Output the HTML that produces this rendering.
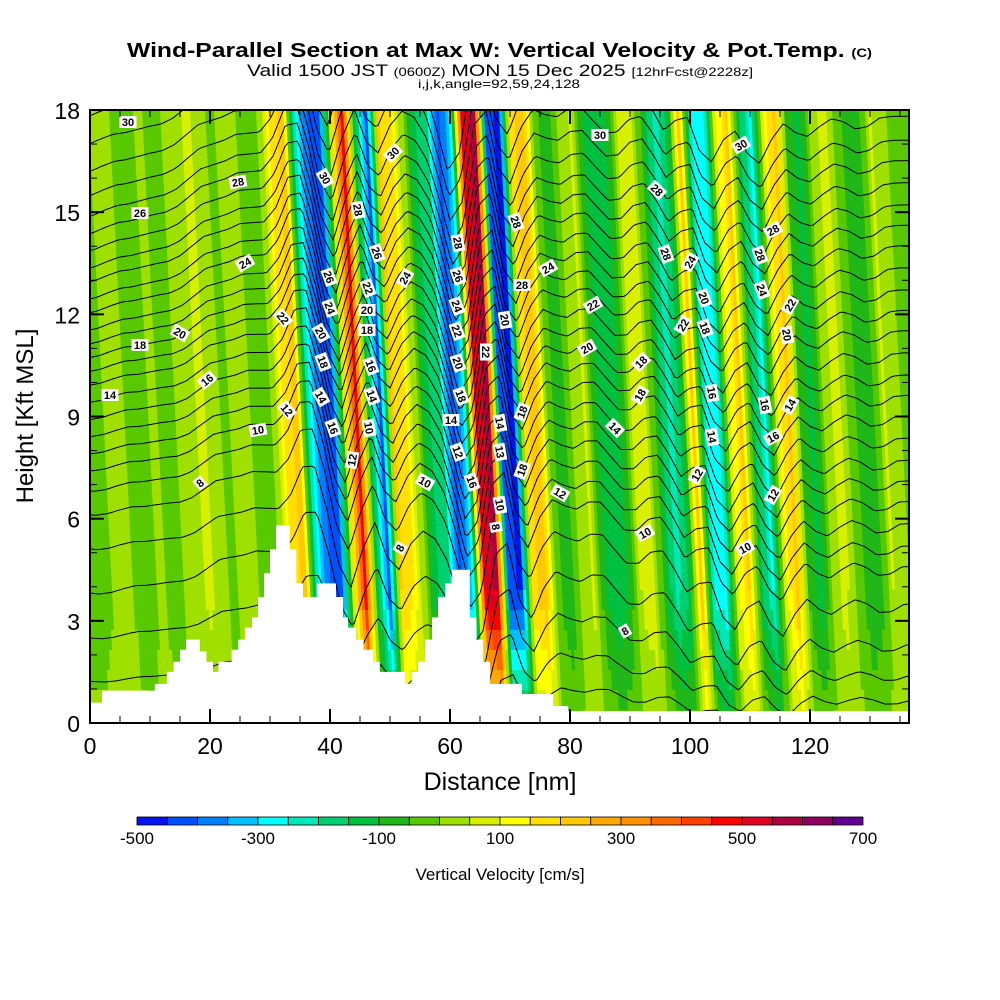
<!DOCTYPE html>
<html><head><meta charset="utf-8">
<style>
html,body{margin:0;padding:0;background:#fff;}
svg{display:block;font-family:"Liberation Sans",sans-serif;}
</style></head>
<body>
<svg id="chart" width="1000" height="1000" viewBox="0 0 1000 1000">
  <text x="127" y="57" textLength="745" lengthAdjust="spacingAndGlyphs" font-size="20" font-weight="bold">Wind-Parallel Section at Max W: Vertical Velocity &amp; Pot.Temp. <tspan font-size="12">(C)</tspan></text>
  <text x="247" y="76" textLength="506" lengthAdjust="spacingAndGlyphs" font-size="17">Valid 1500 JST <tspan font-size="12">(0600Z)</tspan> MON 15 Dec 2025 <tspan font-size="12">[12hrFcst@2228z]</tspan></text>
  <text x="418" y="88" textLength="162" lengthAdjust="spacingAndGlyphs" font-size="12">i,j,k,angle=92,59,24,128</text>
  <defs><clipPath id="plotclip"><rect x="90" y="110" width="819" height="613"/></clipPath></defs>
  <g id="field" clip-path="url(#plotclip)"></g>
  <g id="contours" clip-path="url(#plotclip)"></g>
  <g id="terrain" clip-path="url(#plotclip)"></g>
  <g id="clabels"></g>
  <g id="axes"></g>
  <text x="0" y="0" transform="translate(33,416) rotate(-90)" text-anchor="middle" font-size="24">Height [Kft MSL]</text>
  <text x="500" y="790" text-anchor="middle" font-size="25">Distance [nm]</text>
  <g id="cbar"></g>
  <text x="500" y="880" text-anchor="middle" font-size="17">Vertical Velocity [cm/s]</text>
</svg>
<script>
const distanceNm = [0,2,4,6,8,10,12,14,16,18,20,22,24,26,28,30,32,34,36,38,40,42,44,46,48,50,52,54,56,58,60,62,64,66,68,70,72,74,76,78,80,82,84,86,88,90,92,94,96,98,100,102,104,106,108,110,112,114,116,118,120,122,124,126,128,130,132,134,136];
const wVel = [-10,0,20,-10,-20,10,-20,0,30,60,30,-30,30,0,-40,0,160,230,-250,-400,-450,60,480,-120,-420,200,150,0,-150,-200,-420,-300,520,560,-420,-470,180,240,-30,-100,10,60,-100,-150,-90,50,80,-90,-220,-150,240,-250,-300,80,200,-130,-260,60,240,-60,-130,20,70,-10,-90,-70,50,20,-50];
const terrainStartNm = [0,2,10.8,12.8,13.9,15,16,18.3,19.4,20.5,21.4,23.6,24.7,25.8,27,28,29,30,31,33.3,34.4,35.5,37.8,41,42.2,43,44.4,45.6,47.2,48.3,52.5,53.6,54.7,55.8,57,58,59.2,60.3,63.3,64.4,65.5,66.7,72,77.2,79.7];
const terrainKft = [0.6,0.95,1.15,1.5,1.8,2.15,2.45,2.1,1.8,1.5,1.8,2.15,2.45,2.8,3.1,3.7,4.4,5.1,5.8,5.1,4.1,3.7,4.1,3.7,3.1,2.8,2.45,2.15,1.8,1.5,1.15,1.5,1.8,2.45,3.1,3.7,4.1,4.5,3.1,2.45,1.8,1.15,0.85,0.5,0.35];
const thetaLevels = [5,6,7,8,9,10,11,12,13,14,15,16,17,18,19,20,21,22,23,24,25,26,27,28,29,30,31];
const thetaLeftKft = [1.5,2.9,4.3,5.6,6.6,7.3,7.9,8.4,8.9,9.4,9.9,10.4,10.8,11.2,11.6,12.0,12.5,12.9,13.4,13.8,14.3,14.8,15.3,15.9,16.6,17.4,18.2];
const thetaRightKft = [0.3,0.9,1.7,2.7,4.0,5.1,5.7,6.35,7.0,7.6,8.2,8.85,9.5,10.1,10.7,11.35,12.0,12.6,13.2,13.85,14.5,15.1,15.7,16.35,17.0,17.6,18.3];
const velTicks = [-500,-300,-100,100,300,500,700];
const xTicks = [0,20,40,60,80,100,120];
const yTicks = [0,3,6,9,12,15,18];
const COLORS = ["#0414f0","#0050ff","#0080ff","#00c0ff","#00ffff","#00e8b8","#00d070","#00c040","#20b818","#58c800","#a0e000","#d8f000","#ffff00","#ffe000","#ffc800","#ffa800","#ff9000","#ff6800","#ff4000","#ff0000","#e00020","#b00040","#900060","#600090"];
const labelsList = [[128,122,"30",0],[238,182,"28",-10],[140,213,"26",0],[245,263,"24",-30],[180,333,"20",30],[140,345,"18",0],[207,380,"16",-40],[110,395,"14",0],[258,430,"10",-10],[200,483,"8",-40],[283,318,"22",50],[287,410,"12",50],[325,178,"30",60],[393,153,"30",-45],[358,210,"28",80],[377,253,"26",70],[405,278,"24",-60],[329,277,"26",70],[330,308,"24",70],[321,333,"20",60],[323,362,"18",70],[321,397,"14",60],[333,428,"16",70],[352,460,"12",-80],[368,288,"22",70],[367,310,"20",0],[367,330,"18",0],[371,366,"16",70],[372,396,"14",70],[369,428,"10",80],[425,482,"10",30],[400,548,"8",-60],[458,243,"28",80],[458,276,"26",70],[457,306,"24",70],[457,331,"22",70],[458,363,"20",70],[461,396,"18",70],[451,420,"14",0],[458,452,"12",70],[472,482,"16",70],[486,352,"22",90],[496,527,"8",80],[500,505,"10",80],[500,423,"14",80],[500,452,"13",80],[505,320,"20",80],[522,285,"28",0],[548,268,"24",-30],[516,222,"28",70],[600,135,"30",0],[657,190,"28",45],[666,254,"28",70],[690,262,"24",-60],[704,298,"20",70],[683,325,"22",-60],[705,328,"18",70],[593,305,"22",-30],[587,348,"20",-30],[641,362,"18",-45],[640,395,"18",-60],[615,428,"14",45],[697,475,"12",-60],[712,393,"16",80],[712,437,"14",80],[645,533,"10",-30],[625,631,"8",-30],[560,493,"12",30],[522,470,"18",-70],[522,412,"18",-70],[741,145,"30",-30],[773,230,"28",-30],[760,255,"28",70],[762,290,"24",70],[790,305,"22",-60],[787,335,"20",80],[765,405,"16",80],[790,405,"14",-60],[773,437,"16",-30],[773,495,"12",-60],[745,548,"10",-30]];

const NS="http://www.w3.org/2000/svg";
const xs = nm => 90 + nm*6;
const ys = k => 723 - k*613/18;
const kOf = y => (723-y)*18/613;
function wAt(nm){
  if(nm<=distanceNm[0]) return wVel[0];
  const n=distanceNm.length;
  if(nm>=distanceNm[n-1]) return wVel[n-1];
  for(let i=0;i<n-1;i++){ if(nm<=distanceNm[i+1]){ const t=(nm-distanceNm[i])/(distanceNm[i+1]-distanceNm[i]); return wVel[i]+t*(wVel[i+1]-wVel[i]); } }
}
function ampF(h){ return Math.min(1, 0.3 + h/5.5); }
function colorOf(w){ let i=Math.floor((w+500)/50); i=Math.max(0,Math.min(23,i)); return COLORS[i]; }
const TILT=0.05;
const tilt = y => -TILT*(390-y);

// field
const field=document.getElementById('field');
let frag=document.createDocumentFragment();
for(let nm=-8; nm<146; nm+=0.5){
  const w0=wAt(nm);
  for(let j=0;j<31;j++){
    const y0=110+j*20, y1=Math.min(y0+20,723);
    const h=kOf((y0+y1)/2);
    const eff=10+(w0-10)*ampF(h);
    const X=xs(nm), W=3.6;
    const p=document.createElementNS(NS,'polygon');
    p.setAttribute('points',`${X+tilt(y0)},${y0} ${X+W+tilt(y0)},${y0} ${X+W+tilt(y1+0.6)},${y1+0.6} ${X+tilt(y1+0.6)},${y1+0.6}`);
    p.setAttribute('fill',colorOf(eff));
    
    
    frag.appendChild(p);
  }
}
field.appendChild(frag);

// displacement
const kScale=0.002;
const eta=[0];
for(let i=1;i<wVel.length;i++){ eta.push(eta[i-1]+(wVel[i-1]+wVel[i])/2*(distanceNm[i]-distanceNm[i-1])*kScale); }
const eN=eta.length-1;
const etaD=eta.map((e,i)=>e-(eta[0]+(eta[eN]-eta[0])*i/eN));
const mE=etaD.reduce((a,b)=>a+b,0)/etaD.length;
const etaF=etaD.map(e=>e-mE);
function etaAt(nm){
  if(nm<=0) return etaF[0];
  if(nm>=136) return etaF[eN];
  const i=Math.floor(nm/2), t=(nm-distanceNm[i])/2;
  return etaF[i]+t*(etaF[Math.min(i+1,eN)]-etaF[i]);
}
const cg=document.getElementById('contours');
thetaLevels.forEach((lv,li)=>{
  let pts=[];
  for(let nm=-2; nm<=140; nm+=0.5){
    const t=Math.max(0,Math.min(1,nm/136.5));
    const h0=thetaLeftKft[li]+(thetaRightKft[li]-thetaLeftKft[li])*t;
    const y=ys(h0);
    const nd=nm+TILT*(390-y)/6;
    const h=h0+ampF(h0)*etaAt(nd);
    pts.push(xs(nm).toFixed(1)+','+ys(h).toFixed(1));
  }
  const pl=document.createElementNS(NS,'polyline');
  pl.setAttribute('points',pts.join(' '));
  pl.setAttribute('fill','none');pl.setAttribute('stroke','#000');pl.setAttribute('stroke-width','1');
  
  
  cg.appendChild(pl);
});

// terrain
let d=`M ${xs(0)} 724`;
for(let i=0;i<terrainStartNm.length;i++){
  const x0=xs(terrainStartNm[i]);
  const x1=i<terrainStartNm.length-1?xs(terrainStartNm[i+1]):920;
  const y=ys(terrainKft[i]);
  d+=` L ${x0} ${y} L ${x1} ${y}`;
}
d+=` L 920 724 Z`;
const tp=document.createElementNS(NS,'path');
tp.setAttribute('d',d);tp.setAttribute('fill','#fff');


document.getElementById('terrain').appendChild(tp);

// contour labels
const lg=document.getElementById('clabels');
labelsList.forEach(l=>{
  const g=document.createElementNS(NS,'g');
  g.setAttribute('transform',`translate(${l[0]},${l[1]}) rotate(${l[3]})`);
  
  
  const r=document.createElementNS(NS,'rect');
  const wd=l[2].length*7+3;
  r.setAttribute('x',-wd/2);r.setAttribute('y',-6);r.setAttribute('width',wd);r.setAttribute('height',12);r.setAttribute('fill','#fff');
  const t=document.createElementNS(NS,'text');
  t.setAttribute('x',0);t.setAttribute('y',4);t.setAttribute('text-anchor','middle');t.setAttribute('font-size','11');t.setAttribute('font-weight','bold');
  t.textContent=l[2];
  g.appendChild(r);g.appendChild(t);lg.appendChild(g);
});

// axes
const ax=document.getElementById('axes');
function line(x1,y1,x2,y2,w,name){
  const l=document.createElementNS(NS,'line');
  l.setAttribute('x1',x1);l.setAttribute('y1',y1);l.setAttribute('x2',x2);l.setAttribute('y2',y2);
  l.setAttribute('stroke','#000');l.setAttribute('stroke-width',w);
  
  
  ax.appendChild(l);
}
function txt(x,y,s,size,anchor,name,parent){
  const t=document.createElementNS(NS,'text');
  t.setAttribute('x',x);t.setAttribute('y',y);t.setAttribute('font-size',size);t.setAttribute('text-anchor',anchor);
  t.textContent=s;
  
  
  (parent||ax).appendChild(t);
}
for(let nm=0;nm<=136;nm+=5){
  const big=nm%20===0, L=big?14:7;
  line(xs(nm),723,xs(nm),723-L,big?2:1,'x-tick');
  line(xs(nm),110,xs(nm),110+L,big?2:1,'x-tick-top');
}
for(let k=0;k<=18;k+=1){
  const big=k%3===0, L=big?14:7;
  line(90,ys(k),90+L,ys(k),big?2:1,'y-tick');
  line(909,ys(k),909-L,ys(k),big?2:1,'y-tick-right');
}
const fr=document.createElementNS(NS,'rect');
fr.setAttribute('x',90);fr.setAttribute('y',110);fr.setAttribute('width',819);fr.setAttribute('height',613);
fr.setAttribute('fill','none');fr.setAttribute('stroke','#000');fr.setAttribute('stroke-width','2');


ax.appendChild(fr);
xTicks.forEach(v=>txt(xs(v),754,String(v),23,'middle','x-tick-label'));
yTicks.forEach(v=>txt(80,ys(v)+9,String(v),23,'end','y-tick-label'));

// colorbar
const cb=document.getElementById('cbar');
const cbX=v=>137+(v+500)*726/1200;
COLORS.forEach((c,i)=>{
  const r=document.createElementNS(NS,'rect');
  r.setAttribute('x',cbX(-500+i*50));r.setAttribute('y',817);r.setAttribute('width',726/24);r.setAttribute('height',8);
  r.setAttribute('fill',c);r.setAttribute('stroke','#000');r.setAttribute('stroke-width','0.8');
  
  
  cb.appendChild(r);
});
velTicks.forEach(v=>txt(cbX(v),844,String(v),17,'middle','colorbar-tick-label',cb));
</script>
</body></html>
